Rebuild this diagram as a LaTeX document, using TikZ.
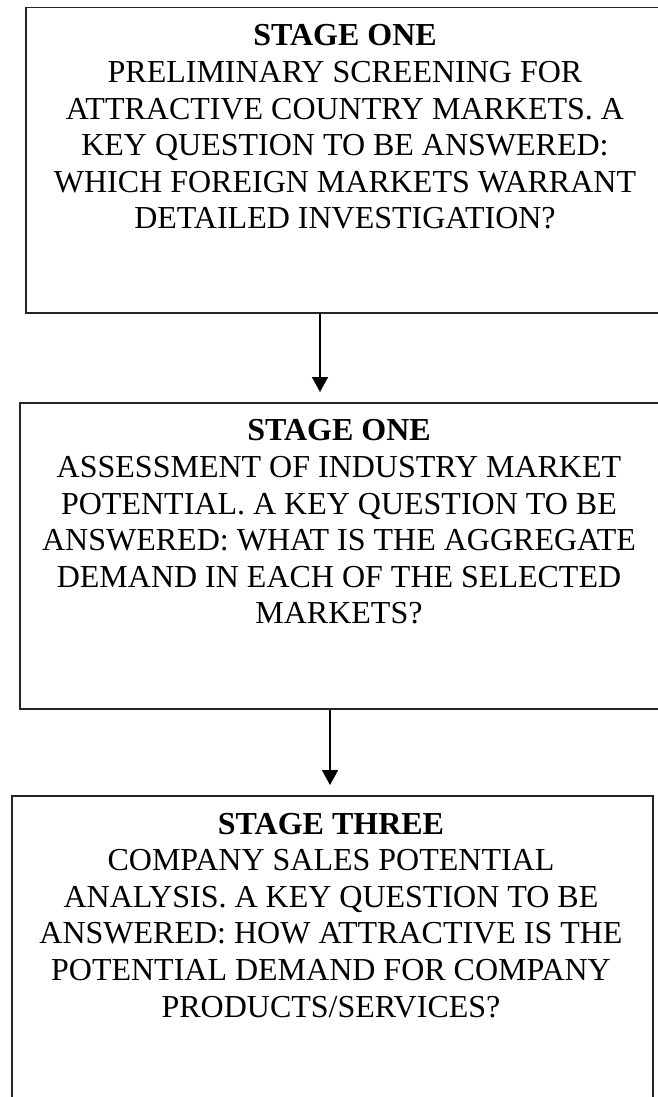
\documentclass[tikz,border=0pt]{standalone}
\usepackage{fontspec}
\setmainfont{Liberation Serif}
\usetikzlibrary{arrows.meta}
\tikzset{
  stagebox/.style={draw=black!85, line width=1.8pt, rectangle, inner sep=0pt, anchor=north west},
  stagetext/.style={align=center, anchor=north, inner sep=0pt,
    font=\fontsize{32}{36.6}\selectfont},
  flow/.style={draw=black, line width=1.8pt, shorten >=10pt,
    -{Triangle[width=16pt,length=15pt]}}
}
\begin{document}
\begin{tikzpicture}[x=1pt,y=1pt]
\useasboundingbox (0,0) rectangle (658,-1097);
\clip (0,0) rectangle (658,-1097);

% the three stage boxes
\node[stagebox, minimum width=640pt, minimum height=305.5pt] (b1) at (25,-6.7) {};
\node[stagebox, minimum width=640pt, minimum height=306pt] (b2) at (19,-402) {};
\node[stagebox, minimum width=641pt, minimum height=330pt] (b3) at (11,-795) {};

% box texts
\node[stagetext] (t1) at (345,-24.6) {\textbf{STAGE ONE}\\PRELIMINARY SCREENING FOR\\ATTRACTIVE COUNTRY MARKETS. A\\KEY QUESTION TO BE ANSWERED:\\WHICH FOREIGN MARKETS WARRANT\\DETAILED INVESTIGATION?};
\node[stagetext] (t2) at (339,-419.6) {\textbf{STAGE ONE}\\ASSESSMENT OF INDUSTRY MARKET\\POTENTIAL. A KEY QUESTION TO BE\\ANSWERED: WHAT IS THE AGGREGATE\\DEMAND IN EACH OF THE SELECTED\\MARKETS?};
\node[stagetext] (t3) at (331,-812.6) {\textbf{STAGE THREE}\\COMPANY SALES POTENTIAL\\ANALYSIS. A KEY QUESTION TO BE\\ANSWERED: HOW ATTRACTIVE IS THE\\POTENTIAL DEMAND FOR COMPANY\\PRODUCTS/SERVICES?};

% connectors
\coordinate (a1) at (320,0);
\coordinate (a2) at (330,0);
\draw[flow] (a1 |- b1.south) -- (a1 |- b2.north);
\draw[flow] (a2 |- b2.south) -- (a2 |- b3.north);
\end{tikzpicture}
\end{document}
